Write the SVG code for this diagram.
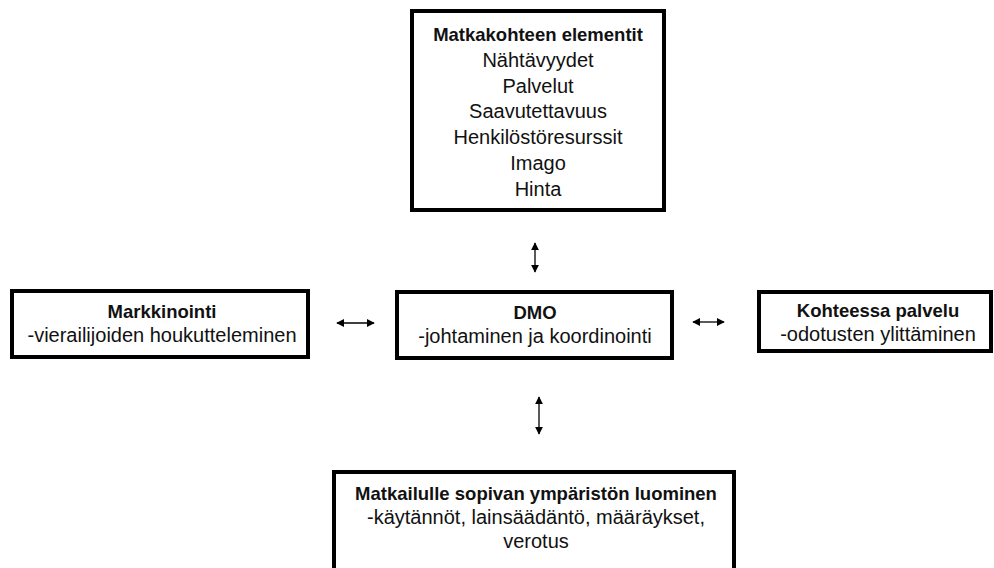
<svg xmlns="http://www.w3.org/2000/svg" width="994" height="568" viewBox="0 0 994 568">
<style>
.box{fill:#fff;stroke:#000;stroke-width:4}
text{font-family:"Liberation Sans",Arial,sans-serif;font-size:20px;fill:#111;text-anchor:middle}
.b{font-weight:bold;font-size:18.5px}
.c{stroke:#000;stroke-width:1.3;fill:none}
</style>
<defs>
<marker id="ah" viewBox="0 0 10 10" refX="9" refY="5" markerWidth="8" markerHeight="8" markerUnits="userSpaceOnUse" orient="auto-start-reverse">
<path d="M0,0 L10,5 L0,10 z" fill="#000"/>
</marker>
</defs>
<rect width="994" height="568" fill="#fff"/>
<g id="connectors">
<line class="c" x1="535" y1="243" x2="535" y2="272" marker-start="url(#ah)" marker-end="url(#ah)"/>
<line class="c" x1="539" y1="397" x2="539" y2="434" marker-start="url(#ah)" marker-end="url(#ah)"/>
<line class="c" x1="337" y1="323" x2="374" y2="323" marker-start="url(#ah)" marker-end="url(#ah)"/>
<line class="c" x1="693" y1="322" x2="724" y2="322" marker-start="url(#ah)" marker-end="url(#ah)"/>
</g>
<g id="elementit">
<rect class="box" x="412" y="11" width="252" height="199"/>
<text class="b" x="538" y="41">Matkakohteen elementit</text>
<text x="538" y="67">Nähtävyydet</text>
<text x="538" y="93">Palvelut</text>
<text x="538" y="118">Saavutettavuus</text>
<text x="538" y="144">Henkilöstöresurssit</text>
<text x="538" y="170">Imago</text>
<text x="538" y="196">Hinta</text>
</g>
<g id="markkinointi">
<rect class="box" x="12" y="291" width="296" height="66"/>
<text class="b" x="162" y="318">Markkinointi</text>
<text x="162" y="342">-vierailijoiden houkutteleminen</text>
</g>
<g id="dmo">
<rect class="box" x="397" y="292" width="275" height="66"/>
<text class="b" x="535" y="319">DMO</text>
<text x="535" y="343">-johtaminen ja koordinointi</text>
</g>
<g id="palvelu">
<rect class="box" x="759" y="292" width="232" height="59"/>
<text class="b" x="878" y="317">Kohteessa palvelu</text>
<text x="878" y="341">-odotusten ylittäminen</text>
</g>
<g id="ymparisto">
<rect class="box" x="334" y="472" width="400" height="110"/>
<text class="b" x="536" y="500">Matkailulle sopivan ympäristön luominen</text>
<text x="536" y="524">-käytännöt, lainsäädäntö, määräykset,</text>
<text x="536" y="548">verotus</text>
</g>
</svg>
